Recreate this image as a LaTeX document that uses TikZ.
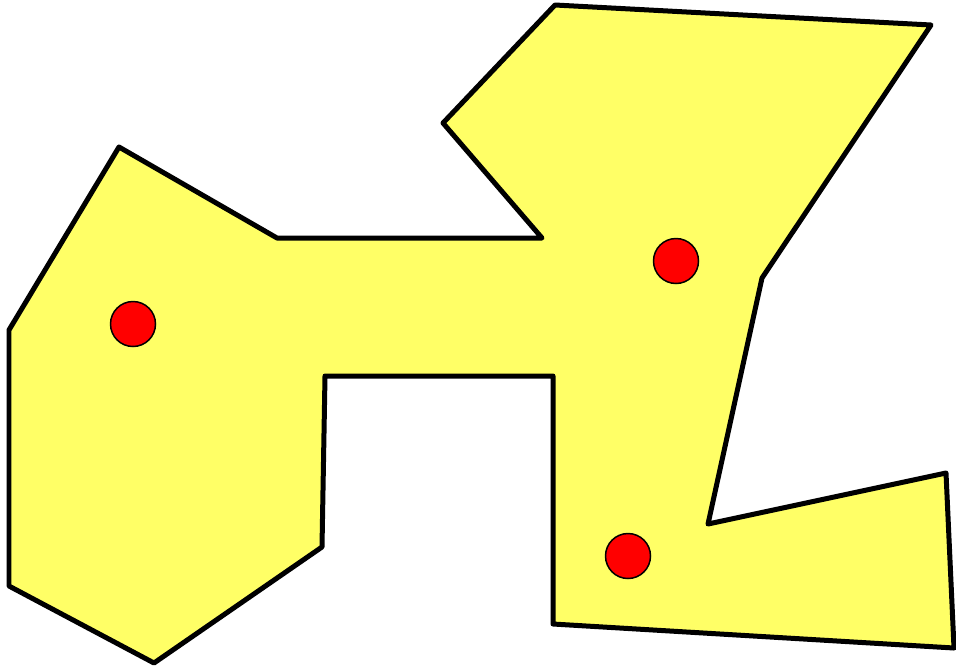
\documentclass[tikz,border=0pt]{standalone}
\usepackage{tikz}
\usepackage{amsmath}
\usepackage{amssymb}

\definecolor{shapefill}{RGB}{255,255,102}

\begin{document}
\begin{tikzpicture}[x=0.02cm, y=-0.02cm,
        dot/.style={circle, draw=black, line width=0.03cm, fill=red, minimum size=0.9cm, inner sep=0pt}]
        \useasboundingbox (0,0) rectangle (956,667);
        % The polygon, outline and fill.
        \draw[black, line width=0.1cm, line join=round, fill=shapefill]
            (555,5) -- (931,25) -- (762,278) -- (708,524) -- (946,473)
            -- (954,648) -- (553,624) -- (553,376) -- (325,376) -- (322,547)
            -- (154,663) -- (9,586) -- (9,330) -- (119,147) -- (277,238)
            -- (542,238) -- (443,123) -- cycle;
        % Below nodes are the points.
            \node[dot] (left) at (133,324) {};
            \node[dot] (upper) at (676,261) {};
            \node[dot] (lower) at (628,556) {};
    \end{tikzpicture}
\end{document}
